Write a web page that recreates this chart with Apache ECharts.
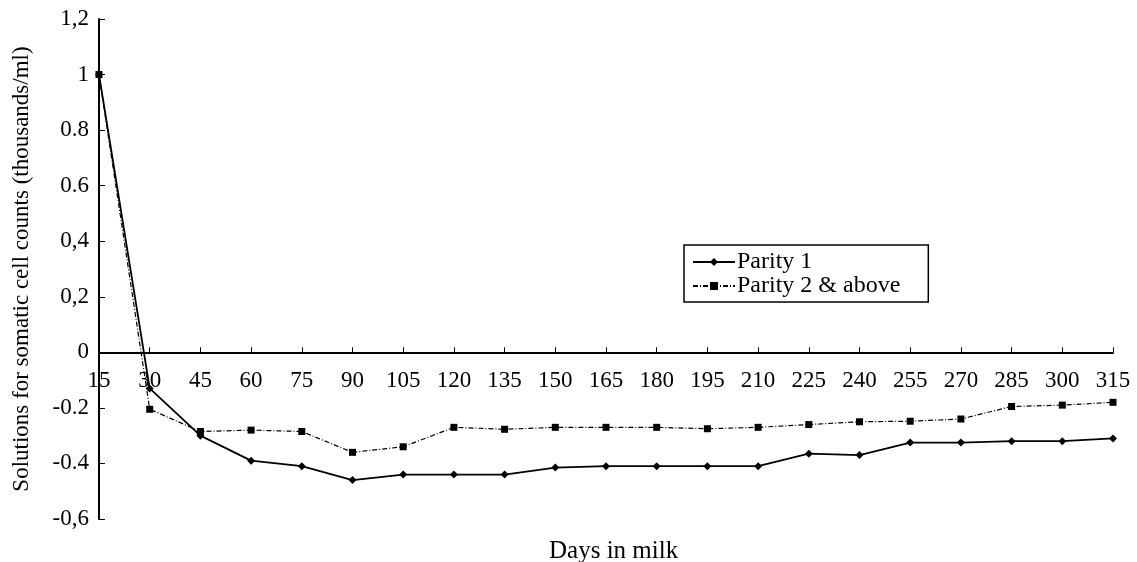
<!DOCTYPE html>
<html>
<head>
<meta charset="utf-8">
<script src="https://cdn.jsdelivr.net/npm/echarts@6/dist/echarts.min.js"></script>
<style>
html,body{margin:0;padding:0;background:#fff;}
#chart{width:1137px;height:562px;}
</style>
</head>
<body>
<div id="chart"></div>
<script>
var days = ['15','30','45','60','75','90','105','120','135','150','165','180','195','210','225','240','255','270','285','300','315'];
var parity1 = [1.0,-0.13,-0.30,-0.39,-0.41,-0.46,-0.44,-0.44,-0.44,-0.415,-0.41,-0.41,-0.41,-0.41,-0.365,-0.37,-0.325,-0.325,-0.32,-0.32,-0.31];
var parity2 = [1.0,-0.205,-0.285,-0.28,-0.285,-0.36,-0.34,-0.27,-0.277,-0.27,-0.27,-0.27,-0.275,-0.27,-0.26,-0.25,-0.248,-0.24,-0.195,-0.19,-0.18];
var yTickLabels = {'-6':'-0,6','-4':'-0.4','-2':'-0.2','0':'0','2':'0,2','4':'0,4','6':'0.6','8':'0.8','10':'1','12':'1,2'};
var seriesNames = ['Parity 1','Parity 2 & above'];
var yName = 'Solutions for somatic cell counts (thousands/ml)';
var xName = 'Days in milk';

var FONT = '"Liberation Serif", "DejaVu Serif", serif';
var chart = echarts.init(document.getElementById('chart'));
chart.setOption({
  animation: false,
  backgroundColor: '#fff',
  grid: {left: 99, right: 24, top: 19, bottom: 43, containLabel: false},
  title: {
    text: xName, left: 549, top: 539, padding: 0,
    textStyle: {fontFamily: FONT, fontSize: 25, fontWeight: 'normal', color: '#000'}
  },
  legend: {
    data: seriesNames,
    orient: 'vertical',
    left: 684, top: 245,
    padding: [5, 28, 4, 8],
    itemGap: 0,
    itemWidth: 42,
    itemHeight: 10,
    borderColor: '#000',
    borderWidth: 1.5,
    borderRadius: 0,
    textStyle: {fontFamily: FONT, fontSize: 24, lineHeight: 21, color: '#000', padding: [0,0,0,-3]}
  },
  xAxis: {
    type: 'category',
    data: days,
    boundaryGap: false,
    position: 'bottom',
    axisLine: {onZero: false, lineStyle: {color: '#000', width: 2}},
    axisTick: {inside: true, length: 5, alignWithLabel: true, lineStyle: {color: '#000', width: 1}},
    axisLabel: {fontFamily: FONT, fontSize: 23, color: '#000', margin: 17, interval: 0},
    splitLine: {show: false}
  },
  yAxis: {
    type: 'value',
    min: -0.6, max: 1.2, interval: 0.2,
    name: yName,
    nameLocation: 'middle',
    nameGap: 66,
    nameTextStyle: {fontFamily: FONT, fontSize: 23, color: '#000'},
    axisLine: {show: true, lineStyle: {color: '#000', width: 2}},
    axisTick: {show: true, inside: true, length: 6, lineStyle: {color: '#000', width: 1}},
    axisLabel: {
      fontFamily: FONT, fontSize: 23, color: '#000', margin: 10,
      formatter: function (v) { var k = String(Math.round(v * 10)); return yTickLabels[k] !== undefined ? yTickLabels[k] : ''; }
    },
    splitLine: {show: false}
  },
  series: [
    {
      name: seriesNames[0], type: 'line', data: parity1,
      symbol: 'diamond', symbolSize: 8,
      itemStyle: {color: '#000'},
      lineStyle: {color: '#000', width: 1.8, type: 'solid'}
    },
    {
      name: seriesNames[1], type: 'line', data: parity2,
      symbol: 'rect', symbolSize: 7,
      itemStyle: {color: '#000'},
      lineStyle: {color: '#000', width: 1.2, type: [5, 2, 1, 2]}
    }
  ]
});
// place the category axis on the zero line, labels beneath it
var yZero = chart.convertToPixel({yAxisIndex: 0}, 0);
var yBottom = chart.convertToPixel({yAxisIndex: 0}, -0.6);
chart.setOption({xAxis: {offset: yZero - yBottom}});
</script>
</body>
</html>
